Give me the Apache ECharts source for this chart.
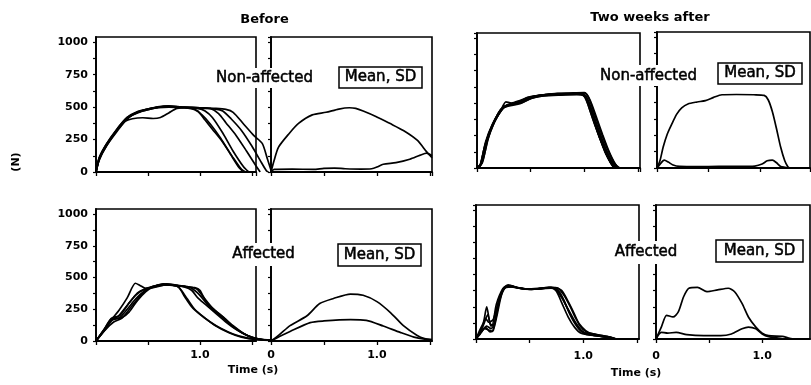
<!DOCTYPE html>
<html><head><meta charset="utf-8">
<style>html,body{margin:0;padding:0;background:#fff}#c{width:811px;height:385px}</style>
<script src="https://cdn.jsdelivr.net/npm/echarts@6/dist/echarts.min.js"></script>
</head><body><div id="c"></div>
<script>
// ---------- DATA: [time (s), force (N)] ----------
// Before, non-affected: individual trials
const beforeNonAffTrial1 = [[0,0],[0.03,110],[0.08,190],[0.15,270],[0.25,370],[0.35,440],[0.45,475],[0.55,495],[0.65,505],[0.75,500],[0.85,495],[0.95,480],[1.02,440],[1.10,370],[1.20,260],[1.30,130],[1.38,30],[1.42,0]];
const beforeNonAffTrial2 = [[0,0],[0.03,90],[0.1,200],[0.2,310],[0.3,410],[0.4,460],[0.5,480],[0.6,500],[0.7,510],[0.8,500],[0.9,495],[0.98,470],[1.05,400],[1.12,330],[1.22,230],[1.32,110],[1.40,20],[1.44,0]];
const beforeNonAffTrial3 = [[0,0],[0.04,120],[0.1,210],[0.2,320],[0.28,390],[0.35,410],[0.45,418],[0.55,412],[0.62,420],[0.70,455],[0.78,490],[0.88,495],[0.98,490],[1.05,470],[1.12,420],[1.22,300],[1.32,160],[1.42,40],[1.47,0]];
const beforeNonAffTrial4 = [[0,0],[0.03,100],[0.1,215],[0.2,330],[0.3,420],[0.4,465],[0.5,485],[0.6,500],[0.7,505],[0.85,500],[1.0,495],[1.1,490],[1.18,450],[1.25,380],[1.35,280],[1.45,160],[1.53,60],[1.58,0]];
const beforeNonAffTrial5 = [[0,0],[0.03,95],[0.1,200],[0.2,320],[0.3,415],[0.4,455],[0.5,480],[0.6,495],[0.7,500],[0.85,495],[1.0,490],[1.15,485],[1.22,470],[1.30,410],[1.40,320],[1.50,200],[1.58,90],[1.64,10],[1.66,0]];
const beforeNonAffTrial6 = [[0,0],[0.03,105],[0.1,205],[0.2,325],[0.3,420],[0.4,460],[0.5,485],[0.6,498],[0.7,505],[0.85,500],[1.0,495],[1.15,490],[1.25,482],[1.32,460],[1.42,370],[1.52,280],[1.60,220],[1.65,100],[1.69,0]];
// Before, non-affected: mean and SD
const beforeNonAffMean = [[0,0],[0.03,90],[0.07,190],[0.17,295],[0.26,374],[0.39,440],[0.52,460],[0.64,485],[0.74,495],[0.80,490],[0.87,470],[0.99,428],[1.12,375],[1.25,320],[1.38,245],[1.47,155],[1.52,110]];
const beforeNonAffSD = [[0,0],[0.03,20],[0.2,22],[0.4,20],[0.5,28],[0.6,30],[0.7,25],[0.85,22],[0.95,25],[1.0,38],[1.06,60],[1.18,72],[1.31,98],[1.41,130],[1.47,145],[1.52,125]];
// Before, affected: individual trials
const beforeAffTrial1 = [[0,0],[0.08,90],[0.15,170],[0.22,240],[0.30,340],[0.38,455],[0.42,440],[0.48,415],[0.55,420],[0.65,440],[0.72,445],[0.80,420],[0.88,330],[0.95,250],[1.05,180],[1.15,120],[1.28,65],[1.40,30],[1.55,10],[1.7,5]];
const beforeAffTrial2 = [[0,0],[0.08,80],[0.15,160],[0.22,200],[0.30,280],[0.38,360],[0.45,400],[0.55,430],[0.65,445],[0.75,440],[0.85,425],[0.92,400],[0.98,340],[1.05,290],[1.15,220],[1.25,150],[1.35,90],[1.45,45],[1.55,18],[1.7,8]];
const beforeAffTrial3 = [[0,0],[0.08,85],[0.15,165],[0.25,185],[0.32,230],[0.40,320],[0.48,390],[0.55,425],[0.65,450],[0.75,440],[0.85,430],[0.95,420],[1.0,400],[1.06,310],[1.15,240],[1.25,170],[1.32,110],[1.45,45],[1.55,15],[1.7,5]];
const beforeAffTrial4 = [[0,0],[0.08,90],[0.15,175],[0.22,180],[0.30,250],[0.38,330],[0.46,390],[0.55,430],[0.65,445],[0.75,435],[0.85,430],[0.92,415],[1.0,360],[1.08,280],[1.18,210],[1.28,140],[1.38,80],[1.48,35],[1.6,12],[1.7,5]];
const beforeAffTrial5 = [[0,0],[0.08,95],[0.15,180],[0.23,200],[0.31,290],[0.40,380],[0.47,410],[0.55,425],[0.65,440],[0.75,440],[0.80,420],[0.86,340],[0.92,270],[1.0,210],[1.1,150],[1.2,100],[1.32,55],[1.45,25],[1.6,8],[1.7,4]];
const beforeAffTrial6 = [[0,0],[0.08,80],[0.17,150],[0.25,180],[0.33,260],[0.42,350],[0.50,410],[0.58,435],[0.68,450],[0.78,440],[0.88,428],[0.97,410],[1.03,350],[1.12,260],[1.22,190],[1.32,120],[1.42,60],[1.52,25],[1.62,10],[1.72,4]];
// Before, affected: mean and SD
const beforeAffMean = [[0,0],[0.08,50],[0.18,121],[0.34,199],[0.46,295],[0.59,335],[0.75,370],[0.87,360],[1.0,310],[1.13,222],[1.25,121],[1.38,44],[1.45,20],[1.52,12]];
const beforeAffSD = [[0,0],[0.08,35],[0.18,75],[0.37,145],[0.5,158],[0.75,168],[0.9,163],[1.06,118],[1.22,68],[1.35,31],[1.45,15],[1.52,10]];
// Two weeks after, non-affected: individual trials
const afterNonAffTrial1 = [[0,0],[0.03,20],[0.08,190],[0.14,320],[0.24,460],[0.32,490],[0.42,505],[0.52,540],[0.65,560],[0.8,565],[0.95,568],[1.0,560],[1.05,470],[1.10,340],[1.16,200],[1.22,80],[1.27,10],[1.30,0]];
const afterNonAffTrial2 = [[0,0],[0.04,30],[0.09,210],[0.15,340],[0.25,470],[0.33,495],[0.43,520],[0.55,555],[0.7,570],[0.85,572],[0.98,575],[1.02,540],[1.07,420],[1.13,270],[1.19,140],[1.25,40],[1.30,0]];
const afterNonAffTrial3 = [[0,0],[0.05,40],[0.10,220],[0.16,350],[0.22,440],[0.27,510],[0.32,500],[0.40,520],[0.48,545],[0.6,560],[0.75,575],[0.9,578],[1.0,580],[1.04,545],[1.09,430],[1.15,290],[1.21,160],[1.27,55],[1.32,0]];
const afterNonAffTrial4 = [[0,0],[0.03,25],[0.07,160],[0.13,300],[0.22,450],[0.30,485],[0.38,500],[0.46,540],[0.55,555],[0.7,568],[0.85,570],[0.97,572],[1.02,550],[1.07,450],[1.12,330],[1.18,190],[1.24,70],[1.29,5],[1.31,0]];
const afterNonAffTrial5 = [[0,0],[0.04,35],[0.1,230],[0.17,370],[0.26,475],[0.35,500],[0.45,525],[0.55,550],[0.68,565],[0.82,570],[0.96,570],[1.01,545],[1.05,450],[1.10,330],[1.15,220],[1.21,100],[1.26,20],[1.29,0]];
const afterNonAffTrial6 = [[0,0],[0.05,50],[0.11,240],[0.18,380],[0.27,480],[0.36,505],[0.46,530],[0.57,555],[0.72,572],[0.88,575],[1.0,578],[1.05,530],[1.11,400],[1.17,260],[1.23,130],[1.29,30],[1.33,0]];
const afterNonAffTrial7 = [[0,0],[0.03,15],[0.08,200],[0.14,330],[0.23,455],[0.31,480],[0.40,495],[0.50,535],[0.62,555],[0.78,562],[0.93,565],[0.99,560],[1.03,500],[1.08,380],[1.14,240],[1.20,110],[1.26,25],[1.29,0]];
const afterNonAffTrial8 = [[0,0],[0.04,30],[0.09,205],[0.15,345],[0.24,468],[0.33,492],[0.41,510],[0.51,548],[0.64,565],[0.8,570],[0.97,574],[1.03,525],[1.08,410],[1.14,275],[1.2,150],[1.26,50],[1.31,0]];
// Two weeks after, non-affected: mean and SD
const afterNonAffMean = [[0,0],[0.03,60],[0.06,160],[0.10,260],[0.14,330],[0.19,410],[0.24,460],[0.30,490],[0.39,505],[0.47,515],[0.55,540],[0.63,560],[0.77,562],[0.94,560],[1.04,555],[1.08,520],[1.12,430],[1.16,300],[1.20,160],[1.24,55],[1.27,10],[1.29,0]];
const afterNonAffSD = [[0,0],[0.03,30],[0.07,60],[0.11,45],[0.15,25],[0.22,12],[0.4,10],[0.6,12],[0.8,12],[0.95,15],[1.02,30],[1.07,55],[1.12,60],[1.16,40],[1.20,12],[1.24,5],[1.28,0]];
// Two weeks after, affected: individual trials
const afterAffTrial1 = [[0,0],[0.03,60],[0.07,130],[0.10,250],[0.13,120],[0.15,110],[0.19,270],[0.25,390],[0.30,420],[0.38,400],[0.5,385],[0.62,392],[0.70,400],[0.75,370],[0.80,280],[0.86,170],[0.92,90],[0.98,45],[1.1,28],[1.25,12],[1.3,0]];
const afterAffTrial2 = [[0,0],[0.04,40],[0.08,80],[0.12,70],[0.15,60],[0.18,140],[0.22,300],[0.27,400],[0.32,415],[0.4,395],[0.52,385],[0.64,395],[0.72,395],[0.78,360],[0.84,260],[0.90,160],[0.96,80],[1.02,40],[1.12,25],[1.25,10],[1.3,0]];
const afterAffTrial3 = [[0,0],[0.05,70],[0.09,160],[0.12,130],[0.16,150],[0.20,260],[0.25,380],[0.29,410],[0.37,398],[0.48,390],[0.60,395],[0.68,400],[0.74,390],[0.80,320],[0.86,230],[0.92,140],[0.98,70],[1.04,40],[1.15,22],[1.28,5],[1.3,0]];
const afterAffTrial4 = [[0,0],[0.04,50],[0.09,90],[0.13,55],[0.16,65],[0.20,200],[0.24,350],[0.28,400],[0.34,405],[0.45,390],[0.58,388],[0.68,398],[0.76,395],[0.82,340],[0.88,250],[0.93,160],[0.99,90],[1.05,50],[1.15,30],[1.28,8],[1.31,0]];
const afterAffTrial5 = [[0,0],[0.03,45],[0.07,110],[0.11,190],[0.14,100],[0.17,120],[0.21,280],[0.26,395],[0.31,410],[0.40,395],[0.52,388],[0.63,392],[0.70,395],[0.76,380],[0.82,300],[0.87,200],[0.93,110],[0.99,55],[1.08,35],[1.2,18],[1.3,0]];
const afterAffTrial6 = [[0,0],[0.05,55],[0.10,100],[0.14,80],[0.18,150],[0.22,320],[0.27,405],[0.33,408],[0.42,392],[0.55,388],[0.66,398],[0.74,398],[0.80,375],[0.86,290],[0.92,190],[0.97,100],[1.03,55],[1.12,35],[1.25,15],[1.3,0]];
// Two weeks after, affected: mean and SD
const afterAffMean = [[0,0],[0.05,92],[0.10,184],[0.16,171],[0.21,210],[0.26,328],[0.31,394],[0.39,400],[0.48,367],[0.58,381],[0.68,394],[0.74,367],[0.81,276],[0.87,171],[0.94,92],[1.0,45],[1.06,26],[1.19,21],[1.25,8],[1.3,0]];
const afterAffSD = [[0,0],[0.05,52],[0.11,45],[0.19,52],[0.29,34],[0.45,26],[0.61,26],[0.71,39],[0.81,79],[0.87,92],[0.94,79],[1.0,39],[1.06,18],[1.15,8],[1.2,0]];

// Tick labels
const yTickLabels = [0, 250, 500, 750, 1000];
const xTickLabelsLeft = ['1.0'];
const xTickLabelsRight = ['0', '1.0'];

// ---------- LAYOUT ----------
// spill: extra px (into the gap) where the individual-trial curves continue past the panel border
const panels = [
  {left:96,  top:37,  width:160, height:135, xmax:1.54, ylab:true,  xlab:null,  spill:15, lines:[beforeNonAffTrial1,beforeNonAffTrial2,beforeNonAffTrial3,beforeNonAffTrial4,beforeNonAffTrial5,beforeNonAffTrial6]},
  {left:271, top:37,  width:161, height:135, xmax:1.52, ylab:false, xlab:null,  spill:0,  lines:[beforeNonAffMean,beforeNonAffSD]},
  {left:96,  top:209, width:160, height:132, xmax:1.54, ylab:true,  xlab:xTickLabelsLeft,  spill:15, lines:[beforeAffTrial1,beforeAffTrial2,beforeAffTrial3,beforeAffTrial4,beforeAffTrial5,beforeAffTrial6]},
  {left:271, top:209, width:161, height:132, xmax:1.52, ylab:false, xlab:xTickLabelsRight, spill:0,  lines:[beforeAffMean,beforeAffSD]},
  {left:477, top:33,  width:163, height:135, xmax:1.52, ylab:false, xlab:null,  spill:0,  lines:[afterNonAffTrial1,afterNonAffTrial2,afterNonAffTrial3,afterNonAffTrial4,afterNonAffTrial5,afterNonAffTrial6,afterNonAffTrial7,afterNonAffTrial8]},
  {left:657, top:32,  width:153, height:136, xmax:1.485,ylab:false, xlab:null,  spill:0,  lines:[afterNonAffMean,afterNonAffSD]},
  {left:476, top:205, width:163, height:134, xmax:1.52, ylab:false, xlab:xTickLabelsLeft,  spill:0,  lines:[afterAffTrial1,afterAffTrial2,afterAffTrial3,afterAffTrial4,afterAffTrial5,afterAffTrial6]},
  {left:656, top:205, width:154, height:134, xmax:1.45, ylab:false, xlab:xTickLabelsRight, spill:0,  lines:[afterAffMean,afterAffSD]}
];

const FONT = '"DejaVu Sans", sans-serif';
const YMAX = 1040;
const grid = [], xAxis = [], yAxis = [], series = [];
panels.forEach((p, i) => {
  grid.push({left:p.left, top:p.top, width:p.width, height:p.height, show:true, borderColor:'#000', borderWidth:1.6, backgroundColor:'transparent'});
  xAxis.push({
    type:'value', gridIndex:i, min:0, max:p.xmax, interval:0.5,
    axisLine:{show:true, onZero:false, lineStyle:{color:'#000', width:1.8}},
    axisTick:{show:true, inside:false, length:4, lineStyle:{color:'#000', width:1.3}},
    splitLine:{show:false},
    axisLabel:{show:!!p.xlab, margin:i >= 6 ? 12 : 9, color:'#000', fontFamily:FONT, fontWeight:'bold', fontSize:11,
      showMaxLabel:false,
      formatter: v => {
        const s = (Math.abs(v) < 1e-9) ? '0' : (Math.abs(v-1) < 1e-9 ? '1.0' : null);
        return (p.xlab && s && p.xlab.indexOf(s) >= 0) ? s : '';
      }}
  });
  yAxis.push({
    type:'value', gridIndex:i, min:0, max:YMAX, interval:125,
    axisLine:{show:true, onZero:false, lineStyle:{color:'#000', width:1.8}},
    axisTick:{show:true, inside:false, length:3, lineStyle:{color:'#000', width:1.2}},
    splitLine:{show:false},
    axisLabel:{show:p.ylab, margin:8, color:'#000', fontFamily:FONT, fontWeight:'bold', fontSize:11, showMaxLabel:false,
      formatter: v => yTickLabels.indexOf(v) >= 0 ? String(v) : ''}
  });
});
// Plot grids (same scale as the visible panel; wider where curves spill into the gap)
panels.forEach((p, i) => {
  const gi = grid.length;
  grid.push({left:p.left, top:p.top, width:p.width + p.spill, height:p.height, show:false});
  xAxis.push({type:'value', gridIndex:gi, min:0, max:p.xmax * (p.width + p.spill) / p.width, show:false, splitLine:{show:false}});
  yAxis.push({type:'value', gridIndex:gi, min:0, max:YMAX, show:false, splitLine:{show:false}});
  p.lines.forEach(d => {
    series.push({type:'line', xAxisIndex:gi, yAxisIndex:gi, data:d, showSymbol:false, symbol:'none',
      smooth:0.25, lineStyle:{color:'#000', width:1.7}, silent:true, z:3});
  });
});

function txt(x, y, s, font, extra) {
  return Object.assign({type:'text', x:x, y:y, z:60, style:{text:s, font:font, fill:'#000', textAlign:'center', textVerticalAlign:'middle'}}, extra || {});
}
function bigTxt(x, y, s) {
  return {type:'text', x:x, y:y, z:60, style:{text:s, font:'normal 15px "DejaVu Sans"', fill:'#000', stroke:'#000', lineWidth:0.5, textAlign:'center', textVerticalAlign:'middle'}};
}
function whiteRect(x, y, w, h) {
  return {type:'rect', z:55, shape:{x:x, y:y, width:w, height:h}, style:{fill:'#fff'}};
}
function box(x, y, w, h) {
  return {type:'rect', z:56, shape:{x:x, y:y, width:w, height:h}, style:{fill:'#fff', stroke:'#000', lineWidth:1.5}};
}
const graphic = [
  txt(264.5, 20, 'Before', 'bold 13px "DejaVu Sans"'),
  txt(650, 18, 'Two weeks after', 'bold 13px "DejaVu Sans"'),
  txt(16, 162, '(N)', 'bold 11px "DejaVu Sans"', {rotation: Math.PI/2}),
  txt(253, 370, 'Time (s)', 'bold 11px "DejaVu Sans"'),
  txt(636, 373, 'Time (s)', 'bold 11px "DejaVu Sans"'),
  whiteRect(214, 68, 101, 20), bigTxt(264.5, 78, 'Non-affected'),
  box(339, 67, 83, 21), bigTxt(380.5, 77.5, 'Mean, SD'),
  whiteRect(229, 243, 70, 23), bigTxt(263.5, 254, 'Affected'),
  box(338, 244, 83, 22), bigTxt(379.5, 255, 'Mean, SD'),
  whiteRect(598, 65, 101, 21), bigTxt(648.5, 76, 'Non-affected'),
  box(718, 63, 84, 21), bigTxt(760, 73.5, 'Mean, SD'),
  whiteRect(612, 241, 69, 23), bigTxt(646, 252.5, 'Affected'),
  box(716, 240, 87, 22), bigTxt(759.5, 251, 'Mean, SD')
];

const chart = echarts.init(document.getElementById('c'), null, {renderer:'canvas'});
chart.setOption({animation:false, backgroundColor:'#fff', grid, xAxis, yAxis, series, graphic});
</script>
</body></html>
